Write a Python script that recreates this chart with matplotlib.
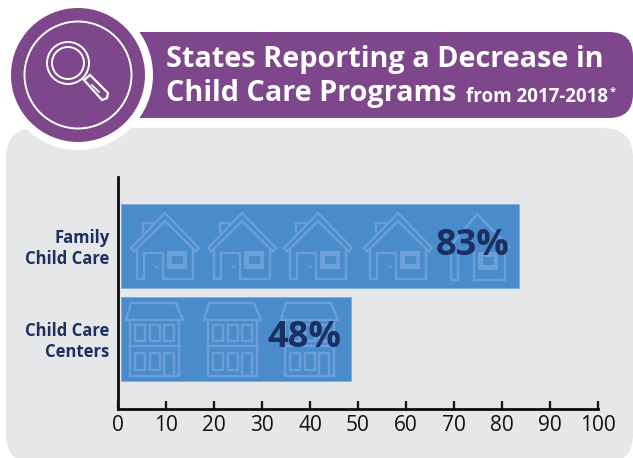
import matplotlib
matplotlib.use('Agg')
import matplotlib.pyplot as plt
from matplotlib.patches import Circle, FancyBboxPatch, Polygon, Rectangle

categories = ['Family\nChild Care', 'Child Care\nCenters']
values = [83, 48]
y_pos = [1, 0]
x_ticks = list(range(0, 101, 10))

PURPLE = '#7e478b'
PANEL = '#e6e7e9'
BLUE = '#4a8bcb'
ICON = '#6c9fd8'
NAVY = '#1b2f60'

plt.rcParams['font.family'] = ['Open Sans', 'DejaVu Sans']

W, H = 633, 458
fig = plt.figure(figsize=(W / 100, H / 100), dpi=100, facecolor='white')

# backdrop layer in pixel units
bg = fig.add_axes([0, 0, 1, 1], zorder=0)
bg.set_xlim(0, W)
bg.set_ylim(H, 0)
bg.axis('off')

bg.add_patch(FancyBboxPatch((6, 128), 627, 336, boxstyle='round,pad=0,rounding_size=30',
                            fc=PANEL, ec='none'))
bg.add_patch(FancyBboxPatch((100, 32), 533, 86, boxstyle='round,pad=0,rounding_size=24',
                            fc=PURPLE, ec='none'))
bg.add_patch(Circle((78, 75), 75, fc='white', ec='none'))
bg.add_patch(Circle((78, 75), 67, fc=PURPLE, ec='none'))
bg.add_patch(Circle((78, 75), 53.5, fc='none', ec='white', lw=1.4))

# magnifying glass
bg.add_patch(Circle((68, 63), 21, fc='none', ec='white', lw=1.4))
bg.add_patch(Circle((68, 63), 16, fc='none', ec='white', lw=1.4))
bg.add_patch(Polygon([(84, 80), (90, 75), (108, 93), (107, 98), (102, 100)],
                     closed=True, fc='none', ec='white', lw=1.6))
bg.plot([92, 99], [85, 92], color='white', lw=1.2)

title_kw = dict(color='white', fontweight='bold', ha='left', va='center')
bg.text(166, 60, 'States Reporting a Decrease in', fontsize=20.8, **title_kw)
bg.text(166, 94, 'Child Care Programs', fontsize=20.8, **title_kw)
bg.text(466, 97, 'from 2017-2018', fontsize=13.5, **title_kw)
bg.text(610, 92, '*', fontsize=8, **title_kw)

# chart
ax = fig.add_axes([118 / W, 1 - 409 / H, 480 / W, 232 / H], zorder=1)
ax.patch.set_alpha(0)
ax.barh(y_pos, values, height=0.903, left=0.6, color=BLUE, edgecolor='#7fadde', linewidth=0.6)
ax.set_xlim(0, 100)
ax.set_ylim(-0.753, 1.742)
ax.set_xticks(x_ticks)
ax.set_yticks([])
ax.tick_params(axis='x', direction='in', length=6, width=1.6, colors='#111111', pad=4)
for lab in ax.get_xticklabels():
    lab.set_fontfamily(['Liberation Sans Narrow', 'Open Sans'])
    lab.set_fontsize(15)
for side in ['top', 'right']:
    ax.spines[side].set_visible(False)
for side in ['left', 'bottom']:
    ax.spines[side].set_linewidth(2)
    ax.spines[side].set_color('#0c0c0c')

for y, cat in zip(y_pos, categories):
    ax.annotate(cat, (0, y), xytext=(-6, -1.5), textcoords='offset points',
                ha='right', va='center', color=NAVY, fontsize=12, fontweight='bold',
                linespacing=1.22)

# house and building outlines sit between the bars and the percent labels
icons = fig.add_axes([0, 0, 1, 1], zorder=2)
icons.set_xlim(0, W)
icons.set_ylim(H, 0)
icons.axis('off')


def outline(pts, x0, y0, closed=True, lw=1.7):
    pts = [(x0 + a, y0 + b) for a, b in pts]
    icons.add_patch(Polygon(pts, closed=closed, fc='none', ec=ICON, lw=lw, joinstyle='miter'))


def house(x0, y0):
    outline([(1, 36), (35, 1), (69, 36), (66, 39.5), (35, 9), (4, 39.5)], x0, y0)
    outline([(13, 21), (13, 11), (22, 11), (22, 13)], x0, y0, closed=False)
    outline([(7, 38), (7, 67), (14, 67), (14, 41), (33, 41), (33, 67), (63, 67), (63, 38)],
            x0, y0, closed=False)
    icons.add_patch(Rectangle((x0 + 37, y0 + 39), 20, 18, fc=ICON, ec='none'))
    icons.add_patch(Rectangle((x0 + 42, y0 + 44), 11, 8, fc=BLUE, ec='none'))
    outline([(25, 55), (29, 55)], x0, y0, closed=False, lw=1.2)


def building(x0, y0):
    outline([(5, 0), (50, 0), (57, 17), (0, 17)], x0, y0)
    outline([(4, 17), (4, 73), (53, 73), (53, 17)], x0, y0, closed=False)
    outline([(2, 43), (55, 43)], x0, y0, closed=False)
    for wx in (9, 24, 38):
        outline([(wx, 22), (wx + 10, 22), (wx + 10, 38), (wx, 38)], x0, y0)
    for wx in (9, 24):
        outline([(wx, 50), (wx + 10, 50), (wx + 10, 67), (wx, 67)], x0, y0)
    outline([(38, 73), (38, 50), (48, 50), (48, 73)], x0, y0, closed=False)


for hx in (130, 207, 283, 363):
    house(hx, 212)
# the fifth house is narrower, most of it hidden under the label
outline([(449, 248), (477, 214), (510, 248)], 0, 0, closed=False)
outline([(451, 250), (451, 280), (458, 280), (458, 253), (474, 253), (474, 280), (505, 280), (505, 250)],
        0, 0, closed=False)
icons.add_patch(Rectangle((478, 252), 20, 18, fc=ICON, ec='none'))
icons.add_patch(Rectangle((483, 257), 11, 8, fc=BLUE, ec='none'))

for bx in (126, 204, 281):
    building(bx, 303)

# percent labels on top of everything, right aligned inside each bar
labels = fig.add_axes(ax.get_position(), zorder=3)
labels.patch.set_alpha(0)
labels.axis('off')
labels.set_xlim(ax.get_xlim())
labels.set_ylim(ax.get_ylim())
for y, v, dy in zip(y_pos, values, [0, 1]):
    labels.annotate(f'{v}%', (v + 0.6, y), xytext=(-7, dy), textcoords='offset points',
                    ha='right', va='center', color=NAVY, fontsize=26, fontweight='bold')

fig.savefig('out.png', dpi=100)
